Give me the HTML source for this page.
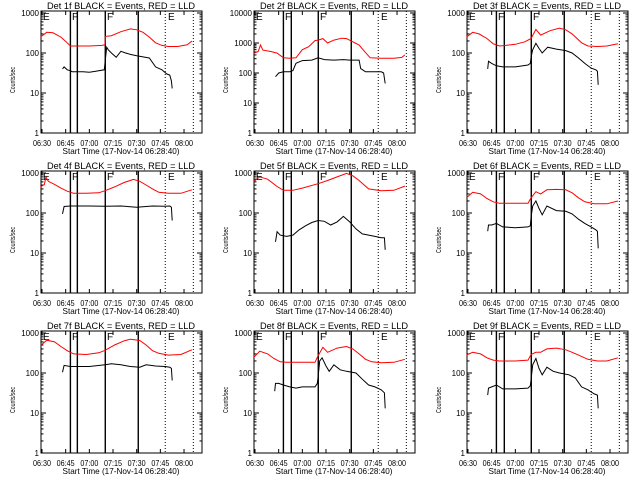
<!DOCTYPE html>
<html><head><meta charset="utf-8"><style>
html,body{margin:0;padding:0;background:#fff;}
svg{display:block;font-family:"Liberation Sans",sans-serif;}
</style></head><body>
<svg id="chart" width="640" height="480" viewBox="0 0 640 480"></svg>
<script>
// x values are minutes after 06:30; y values are counts/sec
const xTickLabels = ["06:30","06:45","07:00","07:15","07:30","07:45","08:00"];
const xTickMinutes = [0,15,30,45,60,75,90];
const markerMinutesCol1 = [18,22.4,40.1,61,78.1,95.9];
const markerMinutesOther = [18,23,40.1,61,78.1,95.9];
const markerLetters = ["E","F","","F","","E"];
const detNames = ["1f","2f","3f","4f","5f","6f","7f","8f","9f"];
const yMaxDecade = [3,4,3,3,3,3,3,3,3];

const red1T=[-1,3,7,12,16,18,22,30,38,39.9,40.2,44,50,56,60,64,68,72,76,80,86,92,95];
const red1V=[250,330,320,250,180,150,150,150,155,160,260,270,340,400,380,330,250,180,155,145,145,160,200];
const blk1T=[13,14,16,18,19,22,26,30,34,39.5,40,41,42,44,47,50,53,56,60,64,68,72,76,79,81,82,82.5];
const blk1V=[40,45,38,36,34,34,34,33,35,38,60,140,120,100,78,110,100,92,85,80,75,45,38,30,28,20,13];

const red2T=[-1,2,3.5,5,10,14,18,22,26,30,34,38,40,43,46,50,55,58,62,66,70,73,80,88,93,95];
const red2V=[450,520,860,580,520,460,320,310,320,600,750,1200,1250,1400,1000,1250,1450,1400,1100,860,480,320,310,310,330,400];
const blk2T=[13,15,18,22,24,26,30,36,40,44,50,56,60,64,66,67,70,76,80,81.5,82.5];
const blk2V=[75,100,110,110,120,210,260,270,320,280,270,280,270,270,270,140,110,110,110,100,45];

const red3T=[-1,3,7,12,16,20,24,30,36,40,43,46,52,58,62,66,72,76,82,88,95];
const red3V=[250,330,300,230,170,150,155,165,190,230,390,280,360,420,380,300,180,150,145,150,170];
const blk3T=[12.5,13,15,18,22,30,38,39.5,40,41,43,45,47,50.5,56,62,66,70,74,78,81,82,82.5];
const blk3V=[40,62,55,48,45,45,50,55,80,120,175,130,100,140,125,115,100,75,55,42,38,35,16];

const red4T=[-1,1.5,2.5,4,8,12,16,20,28,36,40,46,52,58,62,66,70,74,80,88,95];
const red4V=[450,520,800,620,520,420,350,310,310,320,360,450,580,690,620,500,400,330,310,310,380];
const blk4T=[13,14,18,30,40,50,60,70,78,81,82,82.5];
const blk4V=[95,145,150,150,148,150,140,150,148,150,140,65];

const red5T=[-1,3,8,14,18,24,30,40,46,52,58,62,66,72,80,88,95];
const red5V=[600,800,700,460,370,370,420,540,650,800,980,850,650,400,360,370,470];
const blk5T=[13,14,16,20,24,28,32,36,40,44,48,52,56,60,64,68,72,76,80,82,82.5];
const blk5V=[19,34,28,26,28,38,48,58,65,62,50,60,82,60,40,30,28,26,24,24,12];

const red6T=[-1,3,8,12,16,20,30,38,40,43,46,50,56,62,66,70,74,80,88,95];
const red6V=[240,330,300,230,190,175,175,175,240,340,300,380,390,380,320,240,190,170,170,200];
const blk6T=[12.5,13,15,18,22,30,38,39.5,40,41,43,45,47,50,56,62,66,70,74,78,81,82,82.5];
const blk6V=[35,50,50,55,45,43,45,48,80,150,200,130,90,150,115,110,95,70,55,45,38,35,13];

const red7T=[-1,3,8,12,16,20,28,36,40,46,52,56,62,66,70,74,80,88,95];
const red7V=[480,660,600,460,360,300,290,320,370,500,640,700,650,500,360,310,280,290,380];
const blk7T=[13,14,18,30,40,44,50,56,62,66,72,78,81,82,82.5];
const blk7V=[105,155,145,145,160,170,160,145,140,160,150,145,140,130,65];

const red8T=[-1,3,8,12,16,20,30,38,40,43,46,52,58,62,66,70,74,80,88,95];
const red8V=[240,350,300,230,190,185,185,185,270,440,330,420,460,400,300,220,190,180,185,220];
const blk8T=[12.5,13,15,18,22,26,30,38,39.5,40,41,42.5,45,47,50,54,58,64,68,72,76,80,82,82.5];
const blk8V=[35,55,55,50,45,42,45,45,55,80,200,240,150,110,160,120,110,100,70,50,45,38,32,13];

const red9T=[-1,3,8,12,16,20,30,38,40,43,46,50,56,62,66,70,76,82,88,95];
const red9V=[280,330,300,240,210,200,200,210,290,330,330,400,420,380,330,280,220,200,200,240];
const blk9T=[12.5,13,15,18,22,30,38,39.5,40,41,43,45,47,50,54,58,64,68,72,76,80,82,82.5];
const blk9V=[28,42,45,50,40,40,42,48,70,160,230,130,90,140,110,100,90,75,45,38,30,28,13];

const redT=[red1T,red2T,red3T,red4T,red5T,red6T,red7T,red8T,red9T];
const redV=[red1V,red2V,red3V,red4V,red5V,red6V,red7V,red8V,red9V];
const blkT=[blk1T,blk2T,blk3T,blk4T,blk5T,blk6T,blk7T,blk8T,blk9T];
const blkV=[blk1V,blk2V,blk3V,blk4V,blk5V,blk6V,blk7V,blk8V,blk9V];

const NS="http://www.w3.org/2000/svg";
const svg=document.getElementById('chart');
function mk(tag,attrs,parent){const e=document.createElementNS(NS,tag);for(const k in attrs)e.setAttribute(k,attrs[k]);parent.appendChild(e);return e;}

const BL=41,BR=202,BT=11,BB=133;
for(let p=0;p<9;p++){
  const col=p%3,row=Math.floor(p/3);
  const g=mk('g',{transform:`translate(${col*213},${row*160})`},svg);
  
  
  const dec=yMaxDecade[p];
  const pxDec=(BB-13)/dec;
  const xS=t=>42+t*1.578;
  const yS=v=>BB-Math.log10(v)*pxDec;
  // box
  const box=mk('rect',{x:BL,y:BT,width:BR-BL,height:BB-BT,fill:'none',stroke:'#000','stroke-width':1},g);
  
  
  // x ticks
  xTickMinutes.forEach((t,i)=>{
    const x=xS(t);
    mk('line',{x1:x,y1:BB,x2:x,y2:BB-4,stroke:'#000'},g);
    mk('line',{x1:x,y1:BT,x2:x,y2:BT+4,stroke:'#000'},g);
    const tx=mk('text',{x:x,y:146,'font-size':8,'text-anchor':'middle',textLength:18,lengthAdjust:'spacingAndGlyphs'},g);
    tx.textContent=xTickLabels[i];
    
    
  });
  // y ticks
  for(let d=0;d<=dec;d++){
    const y=yS(Math.pow(10,d));
    mk('line',{x1:BL,y1:y,x2:BL+5,y2:y,stroke:'#000'},g);
    mk('line',{x1:BR,y1:y,x2:BR-5,y2:y,stroke:'#000'},g);
    const tx=mk('text',{x:39,y:y+3,'font-size':8,'text-anchor':'end'},g);
    tx.textContent=String(Math.pow(10,d));
    
    
    if(d<dec+1){for(let m=2;m<=9;m++){const v=Math.pow(10,d)*m;const yy=yS(v);if(yy<BT)continue;
      mk('line',{x1:BL,y1:yy,x2:BL+2.5,y2:yy,stroke:'#000'},g);
      mk('line',{x1:BR,y1:yy,x2:BR-2.5,y2:yy,stroke:'#000'},g);}}
  }
  // markers
  const mm=col===0?markerMinutesCol1:markerMinutesOther;
  mm.forEach((t,i)=>{
    const x=xS(t);
    const l=mk('line',{x1:x,y1:BT,x2:x,y2:BB,stroke:'#000','stroke-width':i>=4?1:1.4},g);
    if(i>=4)l.setAttribute('stroke-dasharray','1,2');
    
    
  });
  [[0,43],[1,72],[3,107],[4,168]].forEach(([k,x])=>{
    const tx=mk('text',{x:x,y:20,'font-size':10},g);
    tx.textContent=k===0||k===4?"E":"F";
    
    
  });
  // series
  const rp=mk('polyline',{points:redT[p].map((t,i)=>xS(t).toFixed(1)+','+yS(redV[p][i]).toFixed(1)).join(' '),fill:'none',stroke:'#ff0000','stroke-width':1},g);
  
  
  const bp=mk('polyline',{points:blkT[p].map((t,i)=>xS(t).toFixed(1)+','+yS(blkV[p][i]).toFixed(1)).join(' '),fill:'none',stroke:'#000','stroke-width':1},g);
  
  
  // titles
  const tt=mk('text',{x:121,y:9,'font-size':9,'text-anchor':'middle',textLength:148,lengthAdjust:'spacingAndGlyphs'},g);
  tt.textContent=`Det ${detNames[p]} BLACK = Events, RED = LLD`;
  
  
  const xt=mk('text',{x:121,y:154,'font-size':8.5,'text-anchor':'middle',textLength:117,lengthAdjust:'spacingAndGlyphs'},g);
  xt.textContent='Start Time (17-Nov-14 06:28:40)';
  
  
  const yt=mk('text',{x:0,y:0,'font-size':7,'text-anchor':'middle',transform:'translate(15,80) rotate(-90)',textLength:26,lengthAdjust:'spacingAndGlyphs'},g);
  yt.textContent='Counts/sec';
  
  
}
</script>
</body></html>
